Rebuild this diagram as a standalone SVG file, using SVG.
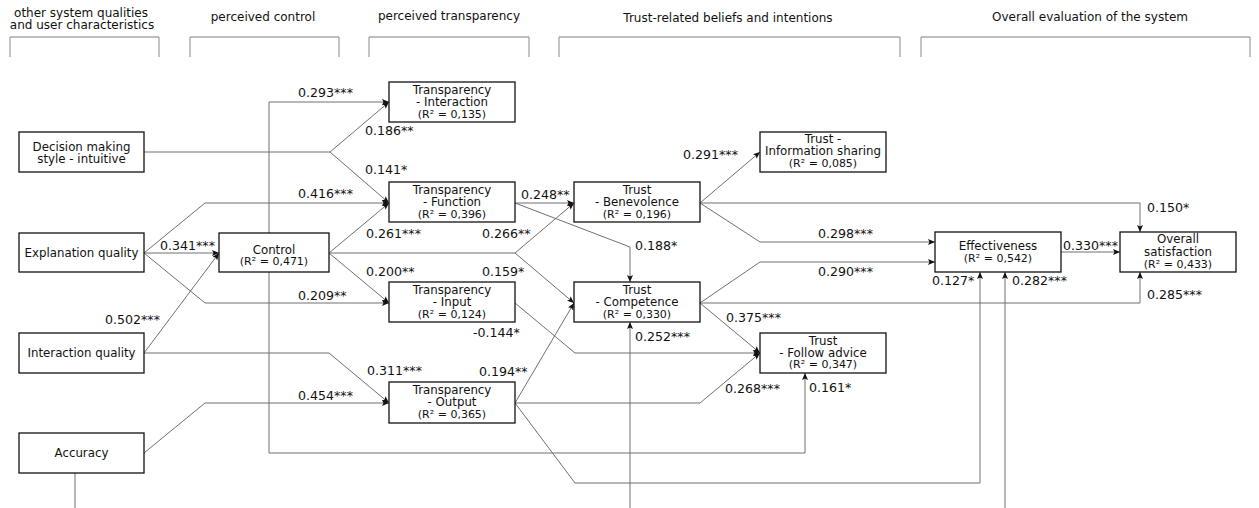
<svg xmlns="http://www.w3.org/2000/svg" width="1259" height="508" viewBox="0 0 1259 508">
<style>
text{font-family:"DejaVu Sans","Liberation Sans",sans-serif;fill:#111}
.hd{font-size:12px;text-anchor:middle}
.bt{font-size:11.8px;text-anchor:middle}
.r2{font-size:11px;text-anchor:middle}
.lb{font-size:12.6px}
.box{fill:#fff;stroke:#111;stroke-width:1.3}
.c{fill:none;stroke:#707070;stroke-width:1}
.a{marker-end:url(#ah)}
.br{fill:none;stroke:#aaa;stroke-width:1.5}
.tk{stroke:#888;stroke-width:1}
</style>
<defs>
<marker id="ah" markerWidth="7" markerHeight="6" refX="7" refY="3" orient="auto" markerUnits="userSpaceOnUse">
<path d="M0,0 L7,3 L0,6 L1.5,3 Z" fill="#111"/>
</marker>
</defs>
<rect width="1259" height="508" fill="#fff"/>
<g id="headers">
<text class="hd" x="81" y="17">other system qualities</text>
<text class="hd" x="82" y="29">and user characteristics</text>
<text class="hd" x="263" y="21">perceived control</text>
<text class="hd" x="449" y="20">perceived transparency</text>
<text class="hd" x="728" y="22">Trust-related beliefs and intentions</text>
<text class="hd" x="1090" y="21">Overall evaluation of the system</text>
<path class="br" d="M10,37 H159 M190,37 H339 M369,37 H529 M559,37 H900 M921,37 H1250"/>
<path class="tk" d="M10,37 V57 M159,37 V57 M190,37 V57 M339,37 V57 M369,37 V57 M529,37 V57 M559,37 V57 M900,37 V57 M921,37 V57 M1250,37 V57"/>
</g>
<g id="connectors">
<path class="c a" d="M269,233 V102 H389"/>
<path class="c a" d="M269,272 V453 H805 V373"/>
<path class="c a" d="M144,152 H330 L389,102"/>
<path class="c a" d="M330,152 L389,203"/>
<path class="c a" d="M144,253 L205,203 H389"/>
<path class="c a" d="M144,253 H219"/>
<path class="c a" d="M144,253 L205,303 H389"/>
<path class="c a" d="M144,353 L219,253"/>
<path class="c a" d="M144,353 H329 L389,403"/>
<path class="c a" d="M144,453 L205,403 H389"/>
<path class="c" d="M75,473 V508"/>
<path class="c a" d="M329,253 L389,203"/>
<path class="c a" d="M329,253 L389,303"/>
<path class="c a" d="M329,253 H515 L574,203"/>
<path class="c a" d="M515,253 L574,303"/>
<path class="c a" d="M515,203 H574"/>
<path class="c a" d="M515,203 L630,247 V282"/>
<path class="c a" d="M515,303 L575,353 H760"/>
<path class="c a" d="M515,403 L574,303"/>
<path class="c a" d="M515,403 H700 L760,353"/>
<path class="c a" d="M515,403 L575,483 H980 V272"/>
<path class="c a" d="M630,508 V322"/>
<path class="c a" d="M1005,508 V272"/>
<path class="c a" d="M700,203 L760,152"/>
<path class="c a" d="M700,203 H1140 V232"/>
<path class="c a" d="M700,203 L760,242 H935"/>
<path class="c a" d="M700,303 L760,262 H935"/>
<path class="c a" d="M700,303 H1140 V272"/>
<path class="c a" d="M700,303 L760,353"/>
<path class="c a" d="M1061,252 H1120"/>
</g>
<g id="labels">
<text class="lb" x="298" y="97">0.293***</text>
<text class="lb" x="365" y="135">0.186**</text>
<text class="lb" x="365" y="174">0.141*</text>
<text class="lb" x="298" y="198">0.416***</text>
<text class="lb" x="160" y="250">0.341***</text>
<text class="lb" x="298" y="300">0.209**</text>
<text class="lb" x="105" y="324">0.502***</text>
<text class="lb" x="366" y="238">0.261***</text>
<text class="lb" x="482" y="238">0.266**</text>
<text class="lb" x="366" y="276">0.200**</text>
<text class="lb" x="482" y="276">0.159*</text>
<text class="lb" x="521" y="199">0.248**</text>
<text class="lb" x="473" y="337">-0.144*</text>
<text class="lb" x="367" y="375">0.311***</text>
<text class="lb" x="479" y="376">0.194**</text>
<text class="lb" x="298" y="400">0.454***</text>
<text class="lb" x="683" y="159">0.291***</text>
<text class="lb" x="635" y="250">0.188*</text>
<text class="lb" x="818" y="238">0.298***</text>
<text class="lb" x="818" y="276">0.290***</text>
<text class="lb" x="726" y="322">0.375***</text>
<text class="lb" x="635" y="341">0.252***</text>
<text class="lb" x="725" y="393">0.268***</text>
<text class="lb" x="809" y="392">0.161*</text>
<text class="lb" x="1147" y="212">0.150*</text>
<text class="lb" x="1063" y="250">0.330***</text>
<text class="lb" x="932" y="285">0.127*</text>
<text class="lb" x="1012" y="285">0.282***</text>
<text class="lb" x="1147" y="299">0.285***</text>
</g>
<g id="n-decision"><rect class="box" x="19" y="132" width="125" height="40"/><text class="bt" x="81.5" y="151">Decision making</text><text class="bt" x="81.5" y="163">style - intuitive</text></g>
<g id="n-explanation"><rect class="box" x="19" y="233" width="125" height="39"/><text class="bt" x="81.5" y="257">Explanation quality</text></g>
<g id="n-interaction"><rect class="box" x="19" y="333" width="125" height="40"/><text class="bt" x="81.5" y="357">Interaction quality</text></g>
<g id="n-accuracy"><rect class="box" x="19" y="433" width="125" height="40"/><text class="bt" x="81.5" y="457">Accuracy</text></g>
<g id="n-control"><rect class="box" x="219" y="233" width="110" height="39"/><text class="bt" x="274" y="254">Control</text><text class="r2" x="274" y="265">(R² = 0,471)</text></g>
<g id="n-t-interaction"><rect class="box" x="389" y="82" width="126" height="40"/><text class="bt" x="452" y="94">Transparency</text><text class="bt" x="452" y="106">- Interaction</text><text class="r2" x="452" y="118">(R² = 0,135)</text></g>
<g id="n-t-function"><rect class="box" x="389" y="182" width="126" height="40"/><text class="bt" x="452" y="194">Transparency</text><text class="bt" x="452" y="206">- Function</text><text class="r2" x="452" y="218">(R² = 0,396)</text></g>
<g id="n-t-input"><rect class="box" x="389" y="282" width="126" height="40"/><text class="bt" x="452" y="294">Transparency</text><text class="bt" x="452" y="306">- Input</text><text class="r2" x="452" y="318">(R² = 0,124)</text></g>
<g id="n-t-output"><rect class="box" x="389" y="382" width="126" height="41"/><text class="bt" x="452" y="394">Transparency</text><text class="bt" x="452" y="406">- Output</text><text class="r2" x="452" y="418">(R² = 0,365)</text></g>
<g id="n-benevolence"><rect class="box" x="574" y="182" width="126" height="40"/><text class="bt" x="637" y="194">Trust</text><text class="bt" x="637" y="206">- Benevolence</text><text class="r2" x="637" y="218">(R² = 0,196)</text></g>
<g id="n-competence"><rect class="box" x="574" y="282" width="126" height="40"/><text class="bt" x="637" y="294">Trust</text><text class="bt" x="637" y="306">- Competence</text><text class="r2" x="637" y="318">(R² = 0,330)</text></g>
<g id="n-infosharing"><rect class="box" x="760" y="132" width="126" height="40"/><text class="bt" x="823" y="143">Trust -</text><text class="bt" x="823" y="155">Information sharing</text><text class="r2" x="823" y="167">(R² = 0,085)</text></g>
<g id="n-followadvice"><rect class="box" x="760" y="333" width="126" height="40"/><text class="bt" x="823" y="345">Trust</text><text class="bt" x="823" y="357">- Follow advice</text><text class="r2" x="823" y="368">(R² = 0,347)</text></g>
<g id="n-effectiveness"><rect class="box" x="935" y="232" width="126" height="40"/><text class="bt" x="998" y="250">Effectiveness</text><text class="r2" x="998" y="262">(R² = 0,542)</text></g>
<g id="n-satisfaction"><rect class="box" x="1120" y="232" width="116" height="40"/><text class="bt" x="1178" y="243">Overall</text><text class="bt" x="1178" y="256">satisfaction</text><text class="r2" x="1178" y="268">(R² = 0,433)</text></g>
</svg>
